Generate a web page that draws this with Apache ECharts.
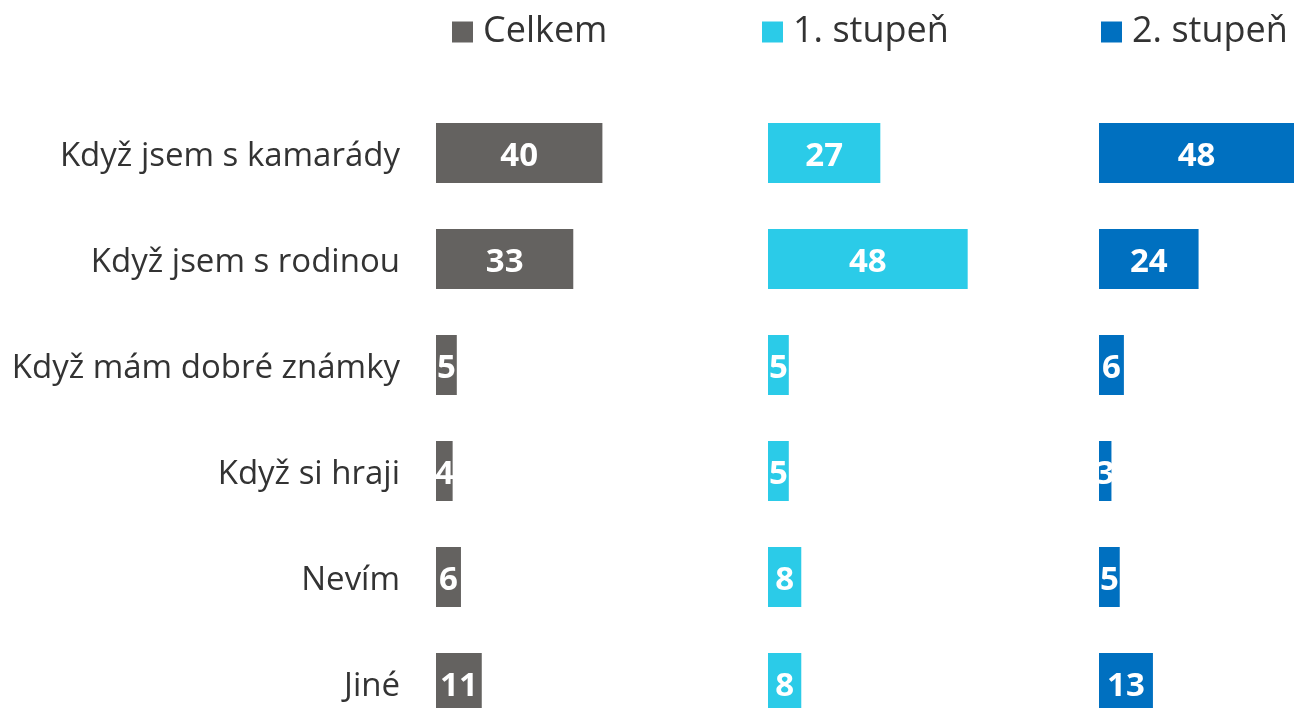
<!DOCTYPE html>
<html>
<head>
<meta charset="utf-8">
<script src="https://cdn.jsdelivr.net/npm/echarts@6/dist/echarts.min.js"></script>
<style>
  html, body { margin: 0; padding: 0; background: #fff; }
  #chart { width: 1294px; height: 708px; }
</style>
</head>
<body>
<div id="chart"></div>
<script>
// data
const categories = ['Když jsem s kamarády', 'Když jsem s rodinou', 'Když mám dobré známky', 'Když si hraji', 'Nevím', 'Jiné']
const seriesNames = ['Celkem', '1. stupeň', '2. stupeň']
const celkem = [40, 33, 5, 4, 6, 11]
const stupen1 = [27, 48, 5, 5, 8, 8]
const stupen2 = [48, 24, 6, 3, 5, 13]

const colors = ['#646260', '#2bcbe8', '#0070c0']
const values = [celkem, stupen1, stupen2]
const gridLefts = [436, 768, 1099]
const gridWidths = [208, 208, 195]
const axisMax = [50, 50, 47]
const legendLefts = [447, 757, 1096]
const font = '"Open Sans", "Noto Sans", sans-serif'

const chart = echarts.init(document.getElementById('chart'))

// grids run past the bottom edge, last row is cut off like in the original
const grids = gridLefts.map((l, i) => ({
  left: l,
  width: gridWidths[i],
  top: 100,
  height: 636,
  containLabel: false,
  outerBoundsMode: 'none'
}))

const xAxes = gridLefts.map((l, i) => ({
  type: 'value',
  gridIndex: i,
  min: 0,
  max: axisMax[i],
  show: false
}))

const yAxes = gridLefts.map((l, i) => ({
  type: 'category',
  gridIndex: i,
  data: categories,
  inverse: true,
  axisLine: { show: false },
  axisTick: { show: false },
  splitLine: { show: false },
  axisLabel: {
    show: i === 0,
    margin: 36,
    formatter: '{t|{value}}',
    rich: {
      t: {
        color: '#333',
        fontSize: 33,
        fontFamily: font,
        padding: [8, 0, 0, 0]
      }
    }
  }
}))

const series = values.map((v, i) => ({
  name: seriesNames[i],
  type: 'bar',
  xAxisIndex: i,
  yAxisIndex: i,
  data: v,
  barWidth: 60,
  itemStyle: { color: colors[i] },
  label: {
    show: true,
    position: 'inside',
    offset: [0, 4],
    color: '#fff',
    fontWeight: 'bold',
    fontSize: 33,
    fontFamily: font
  }
}))

const legends = seriesNames.map((n, i) => ({
  data: [n],
  left: legendLefts[i],
  top: 9,
  icon: 'rect',
  itemWidth: 21,
  itemHeight: 21,
  itemGap: 10,
  textStyle: { color: '#333', fontSize: 36, fontFamily: font, padding: [0, 0, 0, 5] }
}))

chart.setOption({
  animation: false,
  legend: legends,
  grid: grids,
  xAxis: xAxes,
  yAxis: yAxes,
  series: series
})
</script>
</body>
</html>
